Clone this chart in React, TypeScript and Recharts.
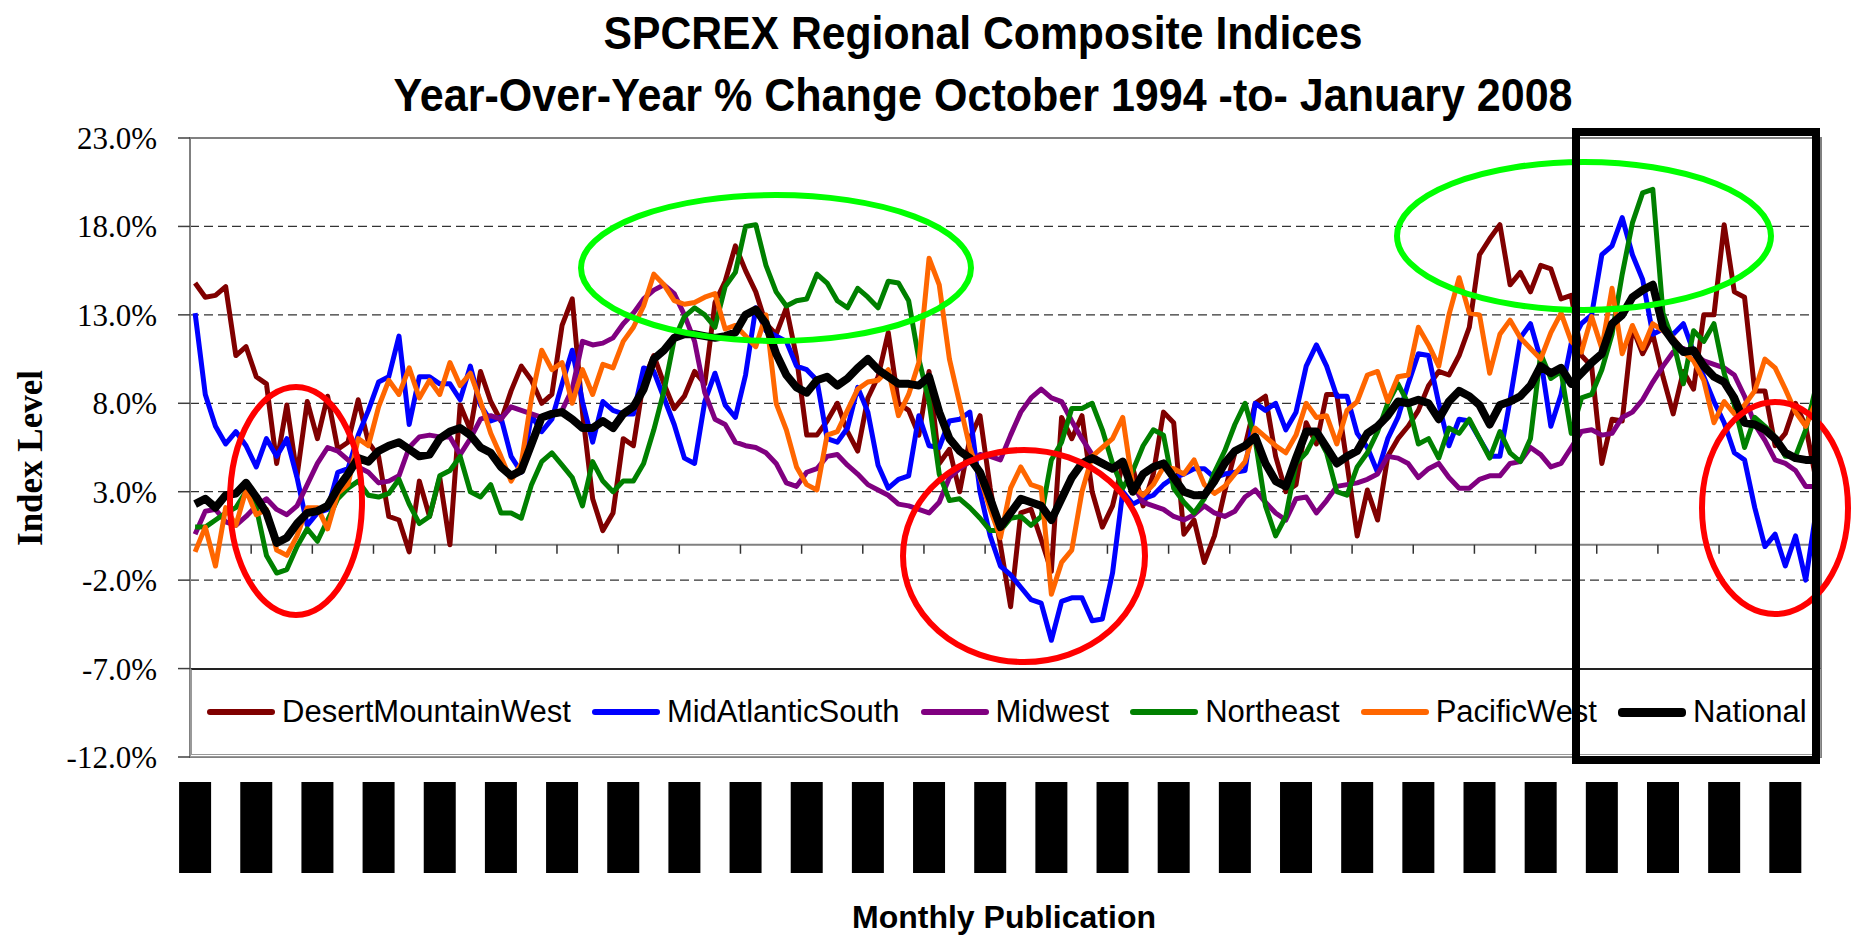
import React from 'react';
import {
  LineChart,
  Line,
  XAxis,
  YAxis,
  CartesianGrid,
  ReferenceLine,
  ReferenceArea,
  Legend,
} from 'recharts';

// Oct-94 .. Jan-08, one label per monthly publication
const MONTH_NAMES = ['Jan', 'Feb', 'Mar', 'Apr', 'May', 'Jun', 'Jul', 'Aug', 'Sep', 'Oct', 'Nov', 'Dec'];
const months: string[] = Array.from({ length: 160 }, (_, i) => {
  const m = 9 + i;
  const yr = (1994 + Math.floor(m / 12)) % 100;
  return `${MONTH_NAMES[m % 12]}-${String(yr).padStart(2, '0')}`;
});
const labelIdx = months.map((_, i) => i).filter((i) => i % 6 === 0);
const yTicks = [-12, -7, -2, 3, 8, 13, 18, 23];

const desertMountainWest = [
  14.8, 14.0, 14.1, 14.6, 10.7, 11.2, 9.5, 9.1, 4.6, 7.9,
  3.9, 8.1, 6.0, 8.4, 5.4, 5.8, 8.2, 5.8, 5.0, 1.6,
  1.4, -0.4, 3.6, 1.6, 3.8, 0.0, 7.9, 6.5, 9.8, 8.1,
  7.0, 8.7, 10.1, 9.3, 8.0, 8.5, 12.4, 13.9, 7.5, 2.6,
  0.8, 1.8, 6.0, 5.6, 9.3, 10.7, 9.1, 7.7, 8.4, 9.8,
  9.1, 13.7, 14.9, 16.9, 15.5, 14.3, 12.5, 11.9, 13.4, 10.6,
  6.2, 6.2, 7.0, 8.0, 6.4, 5.3, 8.3, 9.5, 12.0, 8.0,
  7.6, 6.2, 9.8, 4.6, 5.4, 3.0, 6.0, 7.3, 3.2, 0.0,
  -3.5, 1.8, 2.0, 0.3, -1.5, 7.2, 6.0, 7.3, 3.0, 1.0,
  2.2, 4.6, 4.3, 2.2, 4.0, 7.5, 6.9, 0.6, 1.4, -1.0,
  0.5, 3.0, 5.2, 5.6, 8.0, 8.4, 5.0, 3.0, 3.4, 6.9,
  5.7, 8.5, 8.5, 4.6, 0.5, 3.1, 1.4, 5.0, 6.0, 6.7,
  7.6, 9.0, 9.8, 9.6, 10.7, 12.3, 16.4, 17.3, 18.1, 14.7,
  15.4, 14.3, 15.8, 15.6, 13.9, 14.1, 10.7, 10.1, 4.6, 7.1,
  7.0, 12.3, 10.8, 11.9, 9.5, 7.4, 9.8, 8.8, 13.0, 13.0,
  18.1, 14.3, 14.0, 8.7, 8.7, 5.6, 6.3, 8.0, 6.7, 3.7,
];

const midAtlanticSouth = [
  13.1, 8.5, 6.7, 5.7, 6.4, 5.6, 4.4, 6.0, 5.0, 6.0,
  3.8, 1.1, 1.8, 2.0, 4.1, 4.3, 6.2, 7.6, 9.2, 9.5,
  11.8, 6.8, 9.5, 9.5, 9.1, 9.1, 8.2, 10.1, 7.9, 7.0,
  7.2, 5.0, 4.1, 7.3, 6.4, 7.1, 9.1, 11.0, 8.1, 5.8,
  8.1, 7.6, 7.4, 7.4, 10.0, 9.8, 8.3, 6.8, 4.9, 4.6,
  8.1, 9.7, 7.9, 7.2, 9.6, 13.4, 12.1, 11.8, 11.5, 10.1,
  9.9, 9.3, 6.0, 5.8, 6.6, 8.9, 7.5, 4.5, 3.2, 3.7,
  3.9, 7.3, 5.6, 5.5, 7.0, 7.1, 7.5, 3.0, 0.5, -1.2,
  -1.7, -2.4, -3.1, -3.3, -5.4, -3.2, -3.0, -3.0, -4.3, -4.2,
  -1.6, 3.0, 2.3, 2.6, 2.8, 3.4, 3.8, 4.0, 4.3, 4.3,
  3.8, 4.0, 4.1, 4.2, 8.0, 7.6, 8.0, 6.5, 7.5, 10.1,
  11.3, 10.1, 8.4, 8.4, 6.3, 5.5, 4.1, 6.0, 7.2, 9.1,
  10.8, 10.7, 8.0, 5.6, 7.1, 7.0, 6.0, 5.0, 5.0, 8.2,
  11.7, 12.5, 10.5, 6.7, 8.5, 11.4, 12.5, 13.0, 16.4, 16.9,
  18.5, 16.4, 15.0, 11.9, 12.2, 11.9, 12.5, 10.9, 9.5, 8.1,
  6.9, 5.2, 4.8, 2.1, -0.1, 0.6, -1.2, 0.5, -2.0, 1.8,
];

const midwest = [
  0.6, 1.9, 2.0, 1.3, 1.1, 1.6, 2.2, 2.6, 2.0, 1.7,
  2.2, 3.4, 4.6, 5.5, 5.3, 4.8, 4.4, 4.1, 3.5, 3.6,
  3.9, 5.5, 6.1, 6.2, 6.1, 6.1, 5.1, 6.0, 7.1, 7.3,
  7.1, 7.8, 7.6, 7.4, 7.2, 7.4, 7.6, 8.8, 11.5, 11.3,
  11.4, 11.7, 12.5, 13.1, 13.9, 14.4, 14.7, 14.2, 13.0, 11.5,
  8.6, 7.1, 6.8, 5.8, 5.6, 5.5, 5.2, 4.6, 3.5, 3.3,
  4.1, 4.3, 5.0, 5.1, 4.5, 4.0, 3.4, 3.1, 2.8, 2.3,
  2.2, 2.0, 1.8, 2.4, 3.8, 4.3, 4.7, 5.1, 5.0, 4.8,
  6.2, 7.5, 8.3, 8.8, 8.3, 8.1, 7.0, 6.0, 5.1, 4.6,
  4.4, 4.6, 3.4, 2.4, 2.2, 2.0, 1.6, 1.4, 1.7, 2.2,
  1.8, 1.6, 1.9, 2.7, 3.1, 2.4, 1.8, 1.4, 2.6, 2.7,
  1.8, 2.5, 3.3, 3.4, 3.5, 3.7, 4.0, 5.0, 4.9, 4.6,
  3.8, 4.3, 4.6, 3.8, 3.2, 3.2, 3.7, 3.9, 3.9, 4.6,
  4.7, 5.5, 5.1, 4.4, 4.6, 5.5, 6.4, 6.5, 6.2, 6.3,
  7.2, 7.5, 8.2, 9.2, 10.1, 10.9, 11.1, 10.8, 10.4, 10.2,
  10.0, 9.6, 8.4, 6.8, 5.9, 4.8, 4.6, 4.2, 3.3, 3.3,
];

const northeast = [
  1.0, 1.0, 1.4, 1.8, 2.1, 3.0, 2.1, -0.6, -1.6, -1.4,
  -0.1, 0.9, 0.2, 1.4, 2.6, 3.2, 3.6, 2.8, 2.7, 2.9,
  3.7, 2.3, 1.2, 1.6, 3.9, 4.2, 5.0, 3.0, 2.7, 3.4,
  1.8, 1.8, 1.5, 3.4, 4.7, 5.2, 4.5, 3.8, 2.2, 4.7,
  3.6, 3.0, 3.6, 3.6, 4.6, 6.5, 8.7, 11.6, 12.9, 13.4,
  13.0, 12.3, 14.6, 15.4, 18.0, 18.1, 15.8, 14.3, 13.5, 13.8,
  13.9, 15.3, 14.8, 13.8, 13.4, 14.5, 14.0, 13.4, 14.9, 14.8,
  13.8, 10.5, 8.1, 4.0, 2.5, 2.6, 2.1, 1.5, 0.8, 0.8,
  1.5, 1.6, 1.1, 1.6, 4.8, 5.8, 7.7, 7.7, 8.0, 6.5,
  4.6, 3.2, 4.2, 5.6, 6.5, 6.2, 3.2, 2.4, 1.8, 2.6,
  4.1, 5.3, 6.8, 8.0, 5.9, 2.2, 0.5, 1.6, 4.6, 5.2,
  6.3, 5.2, 3.0, 2.8, 4.4, 5.2, 6.4, 8.0, 9.1, 8.0,
  5.7, 6.0, 4.9, 6.6, 6.3, 7.1, 6.0, 4.9, 6.4, 5.2,
  4.7, 6.0, 10.8, 9.4, 9.8, 6.3, 8.3, 8.5, 9.9, 11.9,
  15.3, 18.2, 19.9, 20.1, 13.1, 11.5, 9.1, 12.1, 11.5, 12.5,
  9.7, 7.9, 5.5, 7.2, 6.7, 6.1, 5.0, 5.0, 6.5, 8.9,
];

const pacificWest = [
  -0.4, 1.0, -1.2, 2.1, 1.1, 3.1, 1.7, 2.0, -0.3, -0.6,
  0.5, 2.1, 2.1, 0.9, 2.9, 3.4, 6.0, 5.6, 7.8, 9.3,
  8.5, 10.0, 8.3, 9.3, 8.5, 10.3, 9.0, 9.7, 8.1, 6.3,
  5.0, 3.6, 4.6, 8.3, 11.0, 9.9, 10.3, 8.0, 9.9, 8.5,
  10.2, 10.0, 11.5, 12.3, 13.5, 15.3, 14.7, 13.8, 13.6, 13.7,
  14.0, 14.2, 12.2, 12.4, 11.8, 11.2, 13.0, 8.0, 6.5, 4.4,
  3.4, 3.1, 6.2, 6.4, 7.6, 8.8, 9.2, 9.3, 9.9, 7.3,
  8.5, 10.3, 16.2, 14.7, 10.5, 8.0, 5.5, 3.8, 2.0, 0.4,
  3.2, 4.4, 3.4, 3.2, -2.8, -1.0, -0.3, 3.0, 5.0, 5.5,
  6.0, 7.2, 3.3, 2.8, 3.4, 4.4, 4.3, 4.0, 4.8, 3.4,
  2.9, 3.3, 4.0, 4.7, 6.6, 6.1, 5.6, 5.2, 6.2, 8.0,
  7.2, 7.3, 5.7, 7.6, 8.1, 9.6, 9.8, 8.1, 9.5, 9.6,
  12.3, 11.3, 10.1, 13.0, 15.1, 13.1, 13.0, 9.7, 11.9, 12.7,
  11.7, 11.1, 10.5, 12.0, 13.1, 11.5, 10.9, 12.9, 11.1, 14.5,
  10.8, 12.4, 11.1, 12.5, 12.1, 11.7, 10.9, 10.4, 9.3, 6.9,
  8.1, 7.4, 7.9, 8.7, 10.5, 10.0, 8.8, 7.5, 6.7, 8.1,
];

const national = [
  2.3, 2.6, 2.1, 2.8, 2.9, 3.5, 2.7, 1.8, 0.1, 0.4,
  1.2, 1.8, 1.9, 2.2, 3.2, 4.0, 4.9, 4.7, 5.3, 5.6,
  5.8, 5.4, 5.0, 5.1, 6.0, 6.4, 6.6, 6.2, 5.5, 5.2,
  4.4, 3.9, 4.2, 5.7, 7.2, 7.4, 7.5, 7.1, 6.6, 6.6,
  7.0, 6.6, 7.4, 7.8, 8.8, 10.5, 11.0, 11.7, 11.9, 11.9,
  11.8, 11.7, 11.8, 12.0, 13.0, 13.3, 12.5, 10.8, 9.6, 8.9,
  8.6, 9.3, 9.5, 9.0, 9.4, 10.0, 10.5, 9.9, 9.5, 9.1,
  9.1, 9.0, 9.5, 7.5, 6.0, 5.3, 4.9, 4.1, 2.6, 1.0,
  1.8, 2.6, 2.4, 2.2, 1.4, 2.6, 3.8, 4.6, 4.9, 4.6,
  4.3, 4.7, 3.0, 4.0, 4.4, 4.6, 3.8, 3.0, 2.8, 2.8,
  3.6, 4.6, 5.3, 5.6, 6.1, 4.6, 3.6, 3.3, 4.9, 6.4,
  6.4, 5.5, 4.6, 5.0, 5.3, 6.3, 6.7, 7.3, 8.1, 8.0,
  8.2, 8.0, 7.1, 8.1, 8.7, 8.4, 7.9, 6.8, 7.9, 8.1,
  8.4, 9.0, 10.1, 9.7, 10.0, 9.1, 9.7, 10.3, 10.8, 12.5,
  13.0, 14.0, 14.4, 14.7, 12.3, 11.5, 10.9, 11.0, 10.1, 9.5,
  9.2, 8.3, 6.9, 6.8, 6.5, 6.0, 5.2, 4.9, 4.8, 4.8,
];

const SERIES = [
  { key: 'dmw', name: 'DesertMountainWest', color: '#800000', width: 5 },
  { key: 'mas', name: 'MidAtlanticSouth', color: '#0000ff', width: 5 },
  { key: 'mw', name: 'Midwest', color: '#800080', width: 5 },
  { key: 'ne', name: 'Northeast', color: '#008000', width: 5 },
  { key: 'pw', name: 'PacificWest', color: '#ff6600', width: 5 },
  { key: 'nat', name: 'National', color: '#000000', width: 8 },
];

const data = months.map((month, i) => ({
  idx: i,
  month,
  dmw: desertMountainWest[i],
  mas: midAtlanticSouth[i],
  mw: midwest[i],
  ne: northeast[i],
  pw: pacificWest[i],
  nat: national[i],
}));

const SANS = '"Liberation Sans", Arial, sans-serif';
const SERIF = '"Liberation Serif", "Times New Roman", serif';

// the category labels come out as solid black blocks below the plot
const MonthTick = ({ x, y, payload }: any) => (
  <g transform={`translate(${x},${y})`}>
    <rect x={-16} y={25} width={32} height={91} fill="#000" />
    <text
      transform="rotate(-90)"
      x={-70}
      y={7}
      textAnchor="middle"
      fontFamily={SANS}
      fontSize={18}
      fill="#000"
    >
      {months[payload.value]}
    </text>
  </g>
);

// category axis crosses at 0%: solid line with tick marks every 6 months
const ZeroAxis = (p: any) => {
  const { x1, x2, y1 } = p;
  const step = (x2 - x1) / months.length;
  return (
    <g>
      <line x1={x1} x2={x2} y1={y1} y2={y1} stroke="#808080" strokeWidth={2} />
      {labelIdx.slice(1).map((k) => (
        <line key={k} x1={x1 + k * step} x2={x1 + k * step} y1={y1} y2={y1 + 9} stroke="#333" strokeWidth={1.5} />
      ))}
    </g>
  );
};

const LegendBox = () => (
  <div
    style={{
      width: 1631,
      height: 89,
      boxSizing: 'border-box',
      borderTop: '2px solid #222',
      borderLeft: '2px solid #999',
      borderRight: '2px solid #999',
      borderBottom: '3px double #999',
      display: 'flex',
      alignItems: 'center',
      paddingLeft: 15,
      fontFamily: SANS,
      fontSize: 31,
      color: '#000',
    }}
  >
    {SERIES.map((s) => (
      <div key={s.key} style={{ display: 'flex', alignItems: 'center', marginRight: 21 }}>
        <div
          style={{
            width: 68,
            height: s.key === 'nat' ? 9 : 6,
            background: s.color,
            borderRadius: 4,
            marginRight: 7,
          }}
        />
        <span style={{ whiteSpace: 'nowrap' }}>{s.name}</span>
      </div>
    ))}
  </div>
);

export default function App() {
  return (
    <div style={{ position: 'absolute', left: 0, top: 0, width: 1854, height: 937, background: '#fff' }}>
      <LineChart width={1854} height={937} data={data} margin={{ top: 138, right: 33, bottom: 10, left: 10 }}>
        <CartesianGrid vertical={false} stroke="#333" strokeDasharray="9 5" strokeWidth={1.3} />
        <ReferenceArea x1={-0.5} x2={159.5} y1={-12} y2={23} fill="none" stroke="#808080" strokeWidth={2} />
        <XAxis
          dataKey="idx"
          type="number"
          domain={[-0.5, 159.5]}
          ticks={labelIdx}
          interval={0}
          allowDataOverflow
          axisLine={false}
          tickLine={false}
          tickSize={0}
          tickMargin={0}
          height={170}
          tick={<MonthTick />}
        />
        <YAxis
          type="number"
          domain={[-12, 23]}
          ticks={yTicks}
          interval={0}
          allowDataOverflow
          width={180}
          tickFormatter={(v: number) => `${v.toFixed(1)}%`}
          tick={{ fontFamily: SERIF, fontSize: 31, fill: '#000' }}
          tickSize={12}
          tickMargin={21}
          axisLine={{ stroke: '#808080', strokeWidth: 2 }}
          tickLine={{ stroke: '#404040', strokeWidth: 1.5 }}
        />
        <ReferenceLine y={0} shape={ZeroAxis} />
        {SERIES.map((s) => (
          <Line
            key={s.key}
            type="linear"
            dataKey={s.key}
            name={s.name}
            stroke={s.color}
            strokeWidth={s.width}
            strokeLinejoin="round"
            dot={false}
            isAnimationActive={false}
          />
        ))}
        <Legend
          layout="horizontal"
          verticalAlign="middle"
          align="center"
          content={<LegendBox />}
          wrapperStyle={{ left: 190, top: 668, width: 1631, height: 89 }}
        />
      </LineChart>

      <svg width={1854} height={937} style={{ position: 'absolute', left: 0, top: 0, pointerEvents: 'none' }}>
        <text x={983} y={49} textAnchor="middle" fontFamily={SANS} fontWeight="bold" fontSize={46} textLength={759} lengthAdjust="spacingAndGlyphs">
          SPCREX Regional Composite Indices
        </text>
        <text x={983} y={111} textAnchor="middle" fontFamily={SANS} fontWeight="bold" fontSize={46} textLength={1179} lengthAdjust="spacingAndGlyphs">
          Year-Over-Year % Change October 1994 -to- January 2008
        </text>
        <text transform="translate(42,458) rotate(-90)" textAnchor="middle" fontFamily={SERIF} fontWeight="bold" fontSize={35}>
          Index Level
        </text>
        <text x={1004} y={928} textAnchor="middle" fontFamily={SANS} fontWeight="bold" fontSize={32}>
          Monthly Publication
        </text>
        {/* highlight annotations */}
        <ellipse cx={296} cy={501} rx={66} ry={114} fill="none" stroke="#ff0000" strokeWidth={6} />
        <ellipse cx={776} cy={268} rx={195} ry={73} fill="none" stroke="#00ff00" strokeWidth={6} />
        <ellipse cx={1024} cy={556} rx={121} ry={106} fill="none" stroke="#ff0000" strokeWidth={6} />
        <ellipse cx={1584} cy={236} rx={187} ry={74} fill="none" stroke="#00ff00" strokeWidth={6} />
        <ellipse cx={1775} cy={508} rx={73} ry={106} fill="none" stroke="#ff0000" strokeWidth={6} />
        <rect x={1576} y={132} width={240} height={628} fill="none" stroke="#000" strokeWidth={8} />
      </svg>
    </div>
  );
}
